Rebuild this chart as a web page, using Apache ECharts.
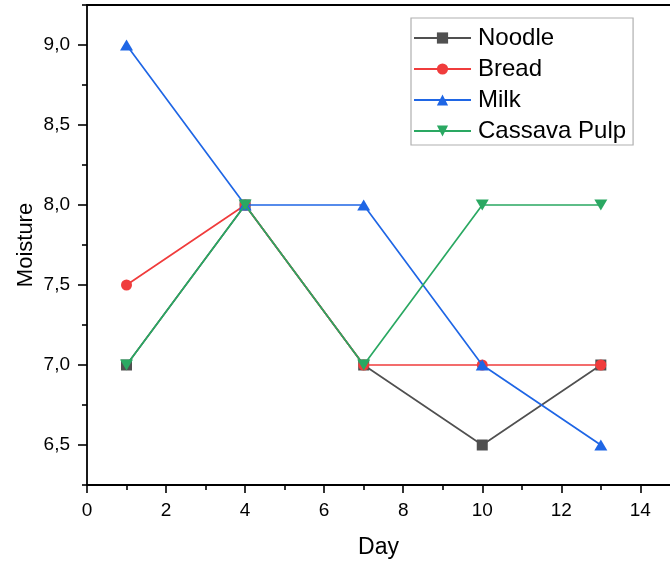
<!DOCTYPE html>
<html><head><meta charset="utf-8">
<script src="https://cdn.jsdelivr.net/npm/echarts@6/dist/echarts.min.js"></script>
<style>html,body{margin:0;padding:0;background:#fff}#c{width:670px;height:562px}</style>
</head><body><div id="c"></div>
<script>
const days = [1, 4, 7, 10, 13];
const noodle = [7, 8, 7, 6.5, 7];
const bread = [7.5, 8, 7, 7, 7];
const milk = [9, 8, 8, 7, 6.5];
const cassava = [7, 8, 7, 8, 8];
const seriesNames = ['Noodle', 'Bread', 'Milk', 'Cassava Pulp'];
const xMajor = [0, 2, 4, 6, 8, 10, 12, 14];
const xMinor = [1, 3, 5, 7, 9, 11, 13];
const yMajor = [6.5, 7, 7.5, 8, 8.5, 9];
const yMinor = [6.25, 6.75, 7.25, 7.75, 8.25, 8.75, 9.25];
const colors = ['#505050', '#f03c3c', '#1f66e5', '#2aa862'];
const symbols = ['rect', 'circle', 'triangle', 'path://M0,0 L10,0 L5,9 Z'];
const values = [noodle, bread, milk, cassava];

const chart = echarts.init(document.getElementById('c'), null, {renderer: 'canvas'});
const font = 'Liberation Sans, Arial, sans-serif';
const XMIN = 0, XMAX = 14.75, YMIN = 6.25, YMAX = 9.25;
const axisLineStyle = {color: '#000', width: 1.8};
chart.setOption({
  animation: false,
  grid: {left: 87, top: 5, bottom: 77, right: 0, containLabel: false, outerBoundsMode: 'none'},
  legend: {
    orient: 'vertical', left: 411, top: 18,
    data: seriesNames,
    itemWidth: 57, itemHeight: 14, itemGap: 5,
    borderColor: '#b0b0b0', borderWidth: 1.2,
    padding: [7, 7, 1, 2],
    textStyle: {fontFamily: font, fontSize: 24, lineHeight: 26, color: '#000', padding: [0, 0, 0, 2]}
  },
  xAxis: [{
    type: 'value', min: XMIN, max: XMAX,
    name: 'Day', nameLocation: 'middle', nameGap: 51, nameMoveOverlap: false,
    nameTextStyle: {fontFamily: font, fontSize: 23, color: '#000'},
    axisLine: {show: true, onZero: false, lineStyle: axisLineStyle},
    axisTick: {show: true, inside: false, length: 8, customValues: xMajor, lineStyle: {color: '#000', width: 1.6}},
    axisLabel: {fontFamily: font, fontSize: 19, color: '#000', margin: 16, customValues: xMajor},
    splitLine: {show: false}
  }, {
    type: 'value', position: 'bottom', min: XMIN, max: XMAX,
    axisLine: {show: false},
    axisTick: {show: true, inside: false, length: 5, customValues: xMinor, lineStyle: {color: '#000', width: 1.6}},
    axisLabel: {show: false}, splitLine: {show: false}
  }, {
    type: 'value', position: 'top', min: XMIN, max: XMAX,
    axisLine: {show: true, lineStyle: axisLineStyle},
    axisTick: {show: false}, axisLabel: {show: false}, splitLine: {show: false}
  }],
  yAxis: [{
    type: 'value', min: YMIN, max: YMAX,
    name: 'Moisture', nameLocation: 'middle', nameGap: 50, nameMoveOverlap: false,
    nameTextStyle: {fontFamily: font, fontSize: 22, color: '#000'},
    axisLine: {show: true, onZero: false, lineStyle: axisLineStyle},
    axisTick: {show: true, inside: false, length: 9, customValues: yMajor, lineStyle: {color: '#000', width: 1.6}},
    axisLabel: {fontFamily: font, fontSize: 19, color: '#000', margin: 17, customValues: yMajor,
      formatter: v => v.toFixed(1).replace('.', ',')},
    splitLine: {show: false}
  }, {
    type: 'value', position: 'left', min: YMIN, max: YMAX,
    axisLine: {show: false},
    axisTick: {show: true, inside: false, length: 5, customValues: yMinor, lineStyle: {color: '#000', width: 1.6}},
    axisLabel: {show: false}, splitLine: {show: false}
  }],
  series: seriesNames.map((n, i) => ({
    name: n, type: 'line',
    data: days.map((d, j) => [d, values[i][j]]),
    symbol: symbols[i],
    symbolSize: i === 3 ? [13, 11] : (i === 2 ? [13, 11] : 11),
    showAllSymbol: true,
    itemStyle: {color: colors[i]},
    lineStyle: {color: colors[i], width: 1.7},
    z: 2 + i
  }))
});
</script></body></html>
